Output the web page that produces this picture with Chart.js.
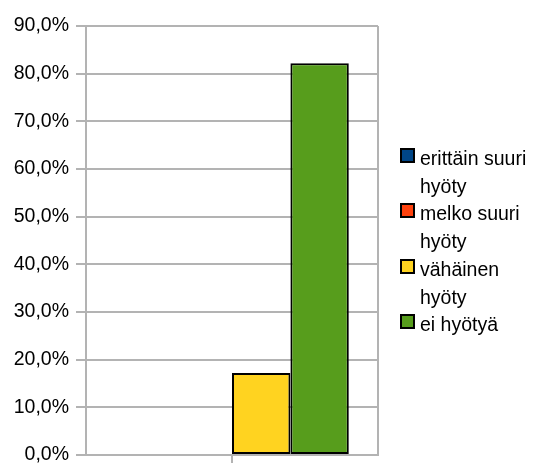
<!DOCTYPE html>
<html>
<head>
<meta charset="utf-8">
<script src="https://cdn.jsdelivr.net/npm/chart.js@4"></script>
<style>
    html, body { margin: 0; padding: 0; background: #fff; }
    #wrap { position: relative; width: 535px; height: 463px; }
    #legend { position: absolute; left: 400px; top: 145px; font-family: "Liberation Sans", Arial, sans-serif; font-size: 19.5px; line-height: 27.7px; color: #000; }
    .item { position: relative; padding-left: 20px; width: 115px; }
    .box { position: absolute; left: 0; top: 3px; width: 11px; height: 11px; border: 2px solid #000; }
</style>
</head>
<body>
<div id="wrap">
    <canvas id="chart" width="535" height="463"></canvas>
    <div id="legend"></div>
</div>
<script>
var categories = [''];
var seriesNames = ['erittäin suuri hyöty', 'melko suuri hyöty', 'vähäinen hyöty', 'ei hyötyä'];
var seriesValues = [[0], [0], [17.2], [82.2]];
var seriesColors = ['#004586', '#ff420e', '#ffd320', '#579d1c'];
var yTicks = [0, 10, 20, 30, 40, 50, 60, 70, 80, 90];

Chart.defaults.font.family = '"Liberation Sans", Arial, sans-serif';
Chart.defaults.font.size = 19.5;
Chart.defaults.color = '#000';

// tick mark under the category centre
var centreTick = {
    id: 'centreTick',
    afterDraw: function(chart) {
        var x = chart.scales.x;
        var ctx = chart.ctx;
        ctx.save();
        ctx.strokeStyle = '#b3b3b3';
        ctx.lineWidth = 2;
        categories.forEach(function(c, i) {
            var px = x.getPixelForValue(i);
            ctx.beginPath();
            ctx.moveTo(px, chart.chartArea.bottom);
            ctx.lineTo(px, chart.chartArea.bottom + 10);
            ctx.stroke();
        });
        ctx.restore();
    }
};

var datasets = seriesNames.map(function(name, i) {
    return {
        label: name,
        data: seriesValues[i],
        backgroundColor: seriesColors[i],
        borderColor: '#000',
        borderWidth: 2,
        borderSkipped: false,
        categoryPercentage: 0.8,
        barPercentage: 1.0
    };
});

var chart = new Chart(document.getElementById('chart').getContext('2d'), {
    type: 'bar',
    data: { labels: categories, datasets: datasets },
    options: {
        responsive: false,
        animation: false,
        layout: { padding: { top: 26, right: 157, bottom: -2, left: 0 } },
        plugins: { legend: { display: false }, tooltip: { enabled: false } },
        scales: {
            x: {
                ticks: { display: false },
                grid: { offset: true, color: '#b3b3b3', lineWidth: 2, drawTicks: false },
                border: { display: true, color: '#b3b3b3', width: 2 },
                afterFit: function(s) { s.height = 10; }
            },
            y: {
                min: yTicks[0],
                max: yTicks[yTicks.length - 1],
                afterBuildTicks: function(s) { s.ticks = yTicks.map(function(v) { return { value: v }; }); },
                ticks: {
                    padding: 7,
                    callback: function(v) { return v.toFixed(1).replace('.', ',') + '%'; }
                },
                grid: { color: '#b3b3b3', lineWidth: 2, tickLength: 10 },
                border: { display: true, color: '#b3b3b3', width: 2 },
                afterFit: function(s) { s.width = 86; s.paddingTop = 0; s.paddingBottom = 0; }
            }
        }
    },
    plugins: [centreTick]
});

var legend = document.getElementById('legend');
chart.data.datasets.forEach(function(ds) {
    var item = document.createElement('div');
    item.className = 'item';
    item.innerHTML = '<span class="box" style="background:' + ds.backgroundColor + '"></span>' + ds.label;
    legend.appendChild(item);
});
</script>
</body>
</html>
